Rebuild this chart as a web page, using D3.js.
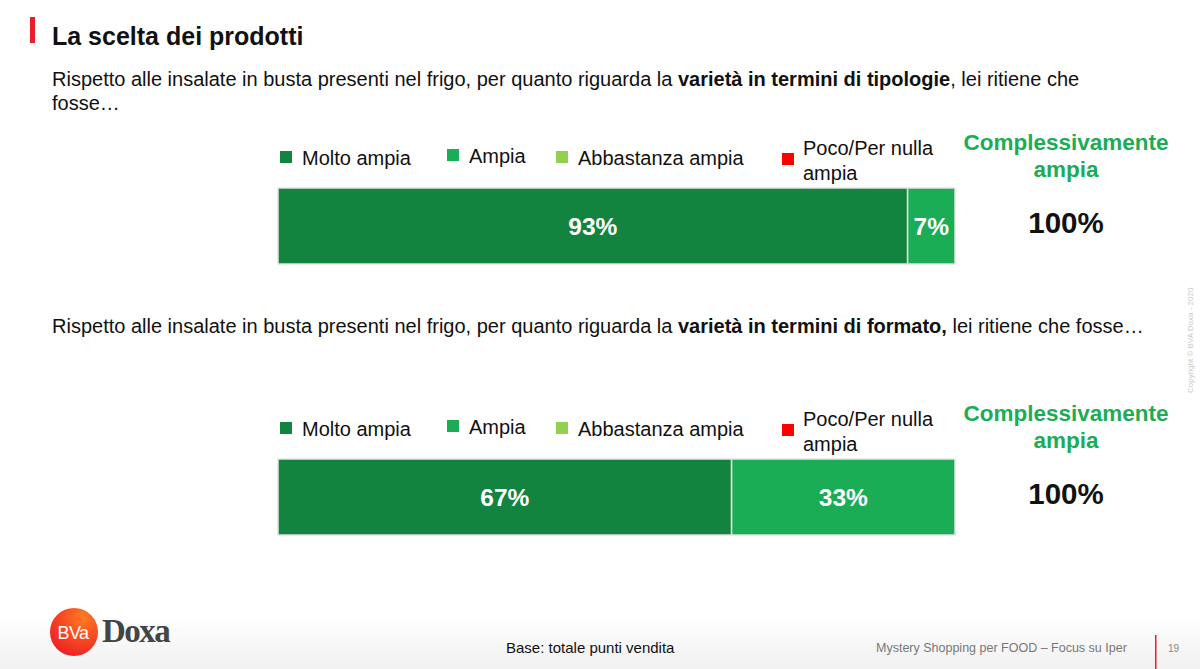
<!DOCTYPE html>
<html><head><meta charset="utf-8">
<script src="https://cdn.jsdelivr.net/npm/d3@7"></script>
<style>body{margin:0;background:#fff;}svg{display:block;font-family:Arial,"Liberation Sans",sans-serif;}</style>
</head><body>
<script>
const categories = ["Molto ampia","Ampia","Abbastanza ampia","Poco/Per nulla ampia"];
const colors = ["#12843F","#1BAD56","#92D050","#FF0000"];
const seriesTipologie = [93, 7, 0, 0];
const seriesFormato = [67, 33, 0, 0];
const totals = ["100%","100%"];
const questions = [
  {pre:"Rispetto alle insalate in busta presenti nel frigo, per quanto riguarda la ", bold:"varietà in termini di tipologie", post:", lei ritiene che"},
  {pre:"Rispetto alle insalate in busta presenti nel frigo, per quanto riguarda la ", bold:"varietà in termini di formato,", post:" lei ritiene che fosse…"}
];

const W=1200,H=669;
const svg=d3.select("body").append("svg").attr("width",W).attr("height",H);
const defs=svg.append("defs");
const g1=defs.append("linearGradient").attr("id","bg").attr("x1",0).attr("y1",0).attr("x2",0).attr("y2",1);
g1.append("stop").attr("offset","0").attr("stop-color","#fff");
g1.append("stop").attr("offset","1").attr("stop-color","#f1f1f1");
const g2=defs.append("radialGradient").attr("id","logo").attr("cx","0.7").attr("cy","0.2").attr("r","0.9");
g2.append("stop").attr("offset","0").attr("stop-color","#ff7a22");
g2.append("stop").attr("offset","1").attr("stop-color","#ee1c24");

svg.append("rect").attr("x",0).attr("y",615).attr("width",W).attr("height",54).attr("fill","url(#bg)");

// title
svg.append("rect").attr("x",30).attr("y",17).attr("width",5).attr("height",26).attr("fill","#EE1C25");
svg.append("text").attr("x",52).attr("y",45).attr("font-size",25).attr("font-weight","bold").attr("fill","#111").text("La scelta dei prodotti");

function question(q,y,y2){
  const t=svg.append("text").attr("x",52).attr("y",y).attr("font-size",20).attr("fill","#111");
  t.append("tspan").text(q.pre);
  t.append("tspan").attr("font-weight","bold").text(q.bold);
  t.append("tspan").text(q.post);
  if(y2) svg.append("text").attr("x",52).attr("y",y2).attr("font-size",20).attr("fill","#111").text("fosse…");
}
question(questions[0],86,110);
question(questions[1],333,null);

const x=d3.scaleLinear().domain([0,100]).range([278,955]);
const legendX=[280,447,556,782];

function block(values,top,total){
  const lg=svg.append("g");
  categories.forEach((c,i)=>{
    const yy = i===1?top-2:(i===3?top+2:top);
    lg.append("rect").attr("x",legendX[i]).attr("y",yy-12).attr("width",12).attr("height",12).attr("fill",colors[i]);
    if(i===3){
      lg.append("text").attr("x",legendX[i]+21).attr("y",top-8).attr("font-size",20).attr("fill","#111").text("Poco/Per nulla");
      lg.append("text").attr("x",legendX[i]+21).attr("y",top+17).attr("font-size",20).attr("fill","#111").text("ampia");
    } else {
      lg.append("text").attr("x",legendX[i]+22).attr("y",yy+2).attr("font-size",20).attr("fill","#111").text(c);
    }
  });
  const barY=top+25, barH=76;
  let cum=0;
  const segs=values.map((v,i)=>{const s={v,i,x0:cum,x1:cum+v};cum+=v;return s;}).filter(s=>s.v>0);
  const bg=svg.append("g");
  bg.selectAll("rect").data(segs).enter().append("rect")
    .attr("x",d=>x(d.x0)).attr("y",barY).attr("width",d=>x(d.x1)-x(d.x0)).attr("height",barH)
    .attr("fill",d=>colors[d.i]).attr("stroke","#e3e3e3").attr("stroke-width",1.5);
  bg.selectAll("text").data(segs).enter().append("text")
    .attr("x",d=>(x(d.x0)+x(d.x1))/2).attr("y",barY+barH/2+9).attr("text-anchor","middle")
    .attr("font-size",24.5).attr("font-weight","bold").attr("fill","#fff").text(d=>d.v+"%");
  svg.append("text").attr("x",1066).attr("y",top-13).attr("text-anchor","middle").attr("font-size",22.5).attr("font-weight","bold").attr("fill","#1BAD56").text("Complessivamente");
  svg.append("text").attr("x",1066).attr("y",top+14).attr("text-anchor","middle").attr("font-size",22.5).attr("font-weight","bold").attr("fill","#1BAD56").text("ampia");
  svg.append("text").attr("x",1066).attr("y",top+70).attr("text-anchor","middle").attr("font-size",29.5).attr("font-weight","bold").attr("fill","#111").text(total);
}
block(seriesTipologie,163,totals[0]);
block(seriesFormato,434,totals[1]);

svg.append("text").attr("transform","translate(1193,393) rotate(-90)").attr("font-size",8).attr("fill","#c8c8c8").text("Copyright © BVA Doxa - 2020");

// logo
svg.append("circle").attr("cx",74).attr("cy",632).attr("r",24).attr("fill","url(#logo)");
svg.append("text").attr("x",73).attr("y",639).attr("text-anchor","middle").attr("font-size",18).attr("fill","#fff").attr("letter-spacing","-0.5").text("BVa");
svg.append("text").attr("x",102).attr("y",642).attr("font-size",33).attr("font-family","'Liberation Serif','DejaVu Serif',serif").attr("font-weight","bold").attr("fill","#444").attr("letter-spacing","-1.5").text("Doxa");

// footer
svg.append("text").attr("x",506).attr("y",653).attr("font-size",15).attr("fill","#111").text("Base: totale punti vendita");
svg.append("text").attr("x",876).attr("y",652).attr("font-size",12.5).attr("fill","#777").text("Mystery Shopping per FOOD – Focus su Iper");
svg.append("rect").attr("x",1155).attr("y",635).attr("width",1.5).attr("height",34).attr("fill","#EE1C25");
svg.append("text").attr("x",1168).attr("y",652).attr("font-size",10).attr("fill","#888").text("19");
</script>
</body></html>
